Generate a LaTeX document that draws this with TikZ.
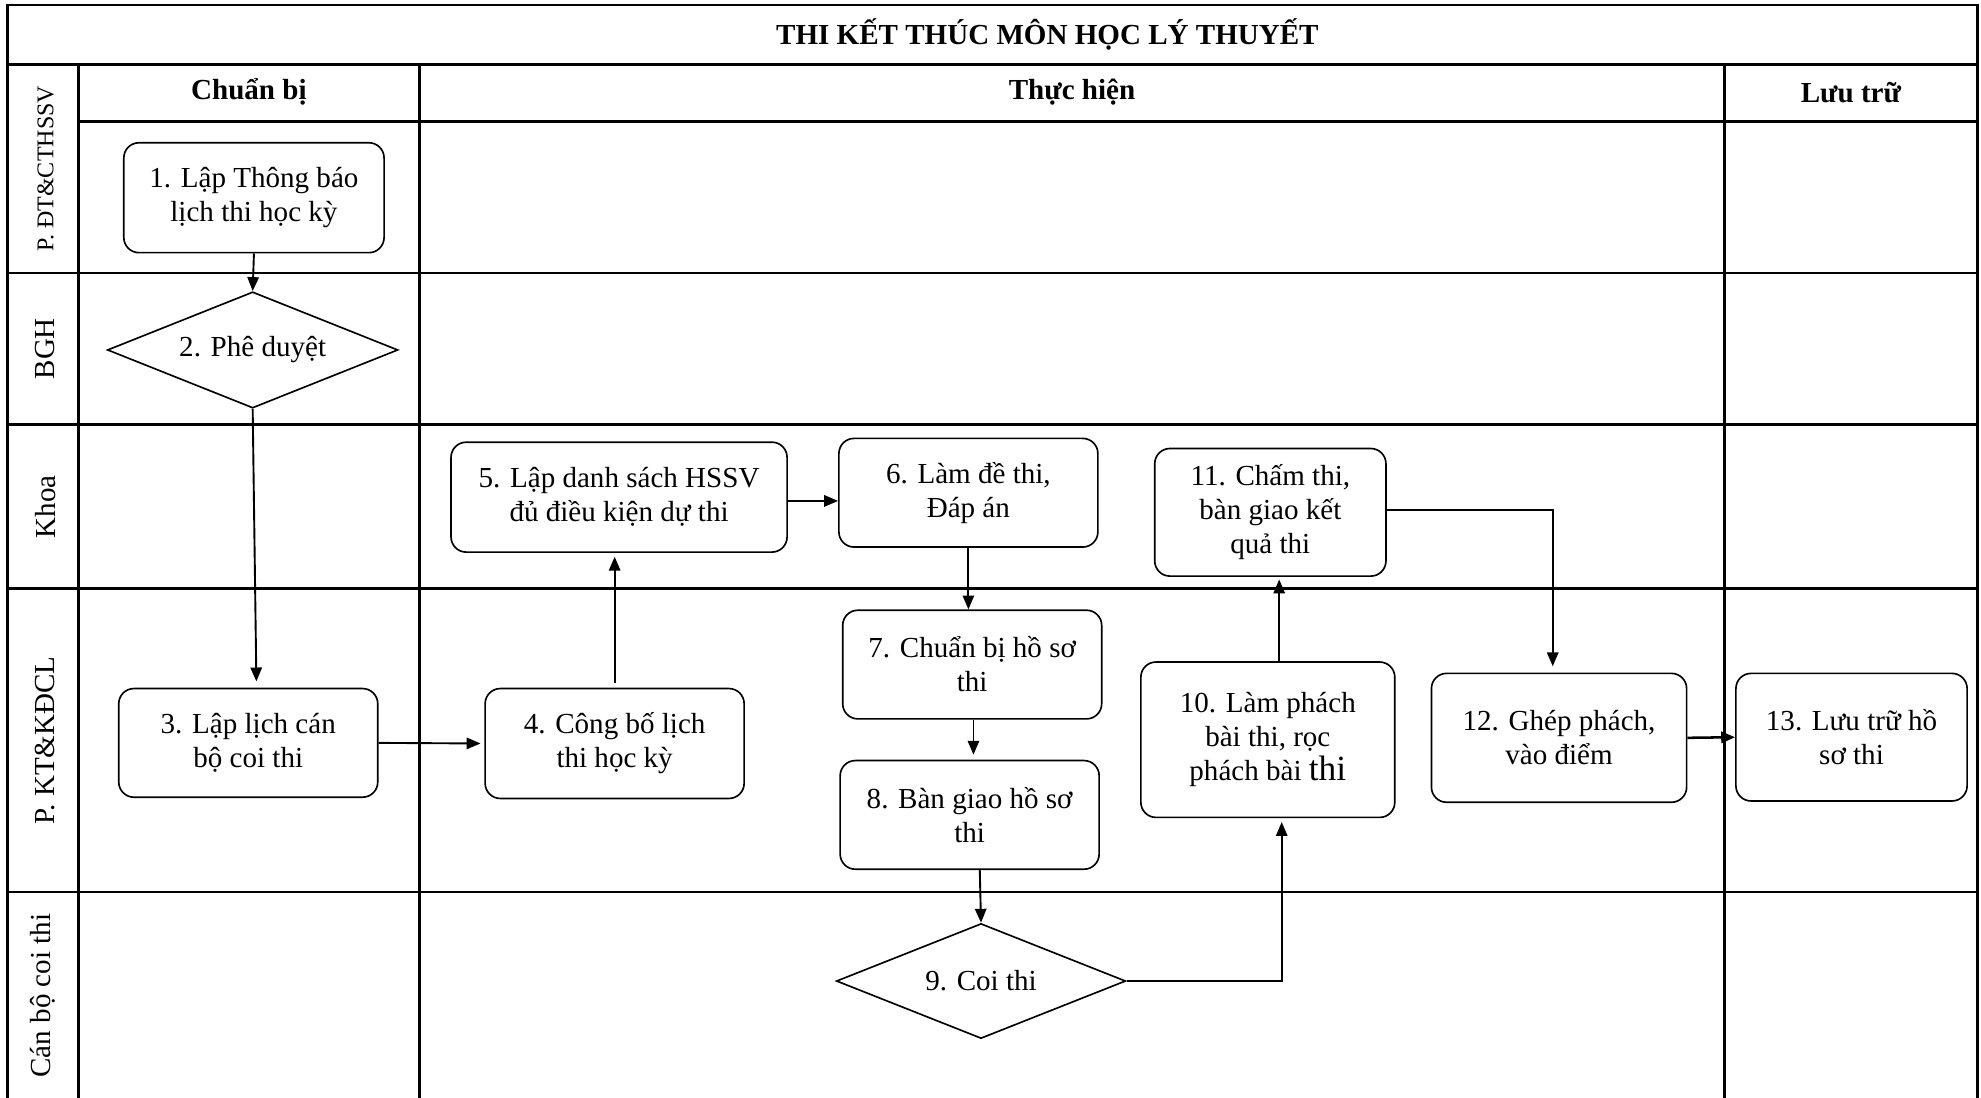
\documentclass[tikz,border=0pt]{standalone}
\usepackage{fontspec}
\setmainfont{Liberation Serif}
\usetikzlibrary{shapes.geometric,arrows.meta,calc}
\begin{document}
\begin{tikzpicture}[x=1pt,y=-1pt,
  tbl/.style={line width=2pt},
  box/.style={draw, rounded corners=12pt, line width=1.3pt, align=center, inner sep=0pt,
    font=\fontsize{23}{27}\selectfont},
  dia/.style={draw, shape=diamond, aspect=2.5, line width=1.3pt, align=center, inner sep=0pt,
    font=\fontsize{23}{27}\selectfont},
  hdr/.style={font=\fontsize{23}{27}\selectfont\bfseries},
  lane/.style={rotate=90, font=\fontsize{23}{27}\selectfont},
  arr/.style={line width=1.5pt, -{Triangle[length=11pt,width=9pt]}}]
\useasboundingbox (0,0) rectangle (1568,869);
% table
\draw[tbl] (6,869) -- (6,4) -- (1565,4) -- (1565,869);
\draw[tbl] (6,51) -- (1565,51);
\draw[tbl] (62,96) -- (1565,96);
\foreach \yy in {216,336,466,706} \draw[tbl] (6,\yy) -- (1565,\yy);
\foreach \xx in {62,332,1365} \draw[tbl] (\xx,51) -- (\xx,869);
% headers
\node[hdr] (title) at (829,27.5) {THI KẾT THÚC MÔN HỌC LÝ THUYẾT};
\node[hdr] (h1) at (197,73) {Chuẩn bị};
\node[hdr] (h2) at (848.5,73) {Thực hiện};
\node[hdr] (h3) at (1465,73) {Lưu trữ};
% lanes
\node[lane, font=\fontsize{19}{23}\selectfont] (l1) at (36,133.5) {P. ĐT\&CTHSSV};
\node[lane] (l2) at (36,276) {BGH};
\node[lane] (l3) at (36,401) {Khoa};
\node[lane] (l4) at (36,586) {P. KT\&KĐCL};
\node[lane] (l5) at (34,788) {Cán bộ coi thi};
% nodes
\node[box, minimum width=206, minimum height=87] (b1) at (201,156.5) {1. Lập Thông báo\\lịch thi học kỳ};
\node[dia, minimum width=230, minimum height=92] (d2) at (200,277) {2. Phê duyệt};
\node[box, minimum width=205, minimum height=86] (b3) at (196.5,588) {3. Lập lịch cán\\bộ coi thi};
\node[box, minimum width=205, minimum height=87] (b4) at (486.5,588.5) {4. Công bố lịch\\thi học kỳ};
\node[box, minimum width=266, minimum height=87] (b5) at (490,393.5) {5. Lập danh sách HSSV\\đủ điều kiện dự thi};
\node[box, minimum width=205, minimum height=86] (b6) at (766.5,390) {6. Làm đề thi,\\Đáp án};
\node[box, minimum width=205, minimum height=86] (b7) at (769.5,526) {7. Chuẩn bị hồ sơ\\thi};
\node[box, minimum width=205, minimum height=86] (b8) at (767.5,645) {8. Bàn giao hồ sơ\\thi};
\node[dia, minimum width=229, minimum height=91] (d9) at (776.5,776.5) {9. Coi thi};
\node[box, minimum width=201, minimum height=123] (b10) at (1003.5,585.5) {10. Làm phách\\bài thi, rọc\\phách bài {\fontsize{28}{27}\selectfont thi}};
\node[box, minimum width=183, minimum height=101] (b11) at (1005.5,405.5) {11. Chấm thi,\\bàn giao kết\\quả thi};
\node[box, minimum width=202, minimum height=102] (b12) at (1234,584) {12. Ghép phách,\\vào điểm};
\node[box, minimum width=183, minimum height=101] (b13) at (1465.5,583.5) {13. Lưu trữ hồ\\sơ thi};
% connectors
\draw[arr] (b1.south) -- (d2.north);
\draw[arr, shorten >=5pt] (d2.south) -- ([xshift=3pt]d2.south |- b3.north);
\draw[arr, shorten >=3pt] (b3.east) -- (b4.west);
\draw[arr, shorten <=4pt, shorten >=3pt] (b4.north) -- (b4.north |- b5.south);
\draw[arr] ([yshift=-3pt]b5.east) -- ([yshift=-3pt]b5.east -| b6.west);
\draw[arr] (b6.south) -- (b6.south |- b7.north);
\draw[arr, shorten >=4pt] ([xshift=1pt]b7.south) -- ([xshift=1pt]b7.south |- b8.north);
\draw[arr] ([xshift=8pt]b8.south) -- (d9.north);
\draw[arr, shorten >=3pt] (d9.east) -| ([xshift=11pt]b10.south);
\draw[arr, shorten >=2pt] ([xshift=9pt]b10.north) -- ([xshift=9pt]b10.north |- b11.south);
\draw[arr, shorten >=5pt] ([yshift=2pt]b11.east) -| ([xshift=-5pt]b12.north);
\draw[arr, line width=2pt] (b12.east) -- (b13.west);
\end{tikzpicture}
\end{document}
